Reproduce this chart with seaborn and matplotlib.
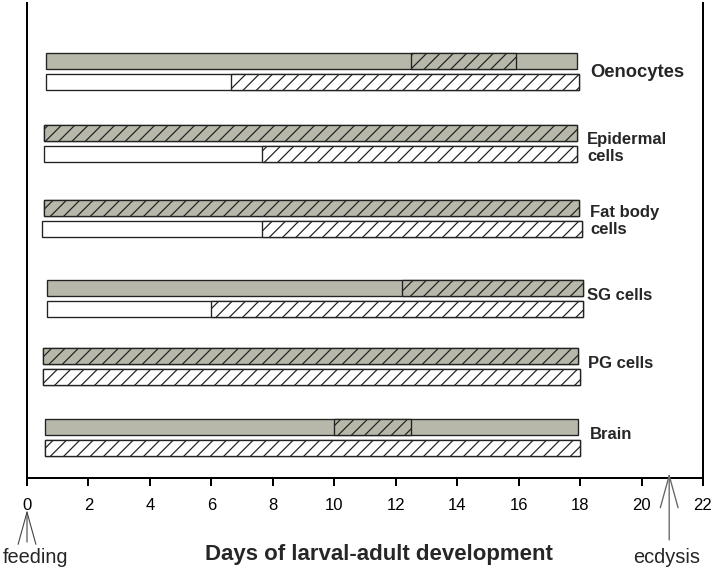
import matplotlib
matplotlib.use("Agg")
import matplotlib.pyplot as plt
import seaborn as sns
import pandas as pd

# ---------------- data (days) ----------------
tissues = ["Oenocytes", "Epidermal\ncells", "Fat body\ncells", "SG cells", "PG cells", "Brain"]
top_start = [0.62, 0.55, 0.55, 0.65, 0.52, 0.60]
top_end = [17.90, 17.90, 17.95, 18.10, 17.93, 17.93]
top_hatch_from = [12.50, 0.55, 0.55, 12.20, 0.52, 10.00]
top_hatch_to = [15.90, 17.90, 17.95, 18.10, 17.93, 12.50]
bottom_start = [0.62, 0.55, 0.50, 0.65, 0.52, 0.60]
bottom_end = [17.95, 17.90, 18.05, 18.10, 18.00, 18.00]
bottom_hatch_from = [6.65, 7.65, 7.65, 6.00, 0.52, 0.60]
x_ticks = [0, 2, 4, 6, 8, 10, 12, 14, 16, 18, 20, 22]
feeding_day = 0.0
ecdysis_day = 20.9

df = pd.DataFrame({
    "tissue": tissues,
    "top_start": top_start, "top_end": top_end,
    "top_hatch_from": top_hatch_from, "top_hatch_to": top_hatch_to,
    "bottom_start": bottom_start, "bottom_end": bottom_end,
    "bottom_hatch_from": bottom_hatch_from,
})

# ---------------- layout ----------------
group_top = [61, 133, 207.5, 287.5, 355.5, 427]   # vertical layout units
row_gap = 21
bar_h = 16
label_x = [18.32, 18.23, 18.32, 18.22, 18.26, 18.32]
label_dy = [1, 4.5, 3, -2, -2, -3]
label_size = [16.5, 15, 15, 15, 15, 15]

sns.set_style("white")
plt.rcParams["font.family"] = ["Liberation Sans", "DejaVu Sans"]
plt.rcParams["hatch.linewidth"] = 1.1
plt.rcParams["hatch.color"] = "black"

DPI = 80
fig = plt.figure(figsize=(715 / DPI, 573 / DPI), dpi=DPI)
ax = fig.add_axes([27 / 715, 1 - 478 / 573, (703 - 27) / 715, (478 - 3) / 573])

gray = "#b8b8aa"
edge = "#222222"
elw = 1.2

for i, r in df.iterrows():
    yt = group_top[i]
    yb = yt + row_gap
    # top bar
    ax.barh(yt, r.top_end - r.top_start, left=r.top_start, height=bar_h,
            color=gray, edgecolor=edge, linewidth=elw)
    ax.barh(yt, r.top_hatch_to - r.top_hatch_from, left=r.top_hatch_from, height=bar_h,
            color=gray, edgecolor=edge, linewidth=elw, hatch="//")
    # bottom bar
    ax.barh(yb, r.bottom_end - r.bottom_start, left=r.bottom_start, height=bar_h,
            color="white", edgecolor=edge, linewidth=elw)
    ax.barh(yb, r.bottom_end - r.bottom_hatch_from, left=r.bottom_hatch_from, height=bar_h,
            color="white", edgecolor=edge, linewidth=elw, hatch="//")
    # label
    ymid = (yt + yb) / 2 + label_dy[i]
    ax.text(label_x[i], ymid, r.tissue,
            fontsize=label_size[i], fontweight="bold", va="center", ha="left",
            linespacing=1.22)

ax.set_xlim(0, 22)
ax.set_ylim(478, 3)
ax.set_yticks([])
ax.set_xticks(x_ticks)
ax.set_xticklabels([str(t) for t in x_ticks], fontsize=15)
ax.tick_params(axis="x", direction="out", length=7, width=1.8, pad=11, colors="black",
               bottom=True)

sns.despine(ax=ax, top=True, right=False, left=False, bottom=False)
for s in ["left", "right", "bottom"]:
    ax.spines[s].set_linewidth(1.8)
    ax.spines[s].set_color("black")

ax.set_xlabel("Days of larval-adult development", fontsize=20, fontweight="bold")
ax.xaxis.set_label_coords(0.52, -0.162)
ax.xaxis.label.set_va("center")

# feeding arrow
ax.annotate("", xy=(feeding_day, -0.0674), xytext=(feeding_day, -0.135),
            xycoords=("data", "axes fraction"), textcoords=("data", "axes fraction"),
            arrowprops=dict(arrowstyle="->,head_length=2.9,head_width=0.8",
                            mutation_scale=10, color="#444444", lw=1.0,
                            shrinkA=0, shrinkB=0),
            annotation_clip=False)
ax.text(feeding_day + 0.29, -0.168, "feeding", transform=ax.get_xaxis_transform(),
        fontsize=18, ha="center", va="center", clip_on=False)

# ecdysis arrow
ax.annotate("", xy=(ecdysis_day, 0.0105), xytext=(ecdysis_day, -0.1305),
            xycoords=("data", "axes fraction"), textcoords=("data", "axes fraction"),
            arrowprops=dict(arrowstyle="->,head_length=2.9,head_width=0.8",
                            mutation_scale=10, color="#666666", lw=1.2,
                            shrinkA=0, shrinkB=0),
            annotation_clip=False)
ax.text(ecdysis_day - 0.07, -0.168, "ecdysis", transform=ax.get_xaxis_transform(),
        fontsize=18, ha="center", va="center", clip_on=False)

fig.savefig("out.png", dpi=DPI)
